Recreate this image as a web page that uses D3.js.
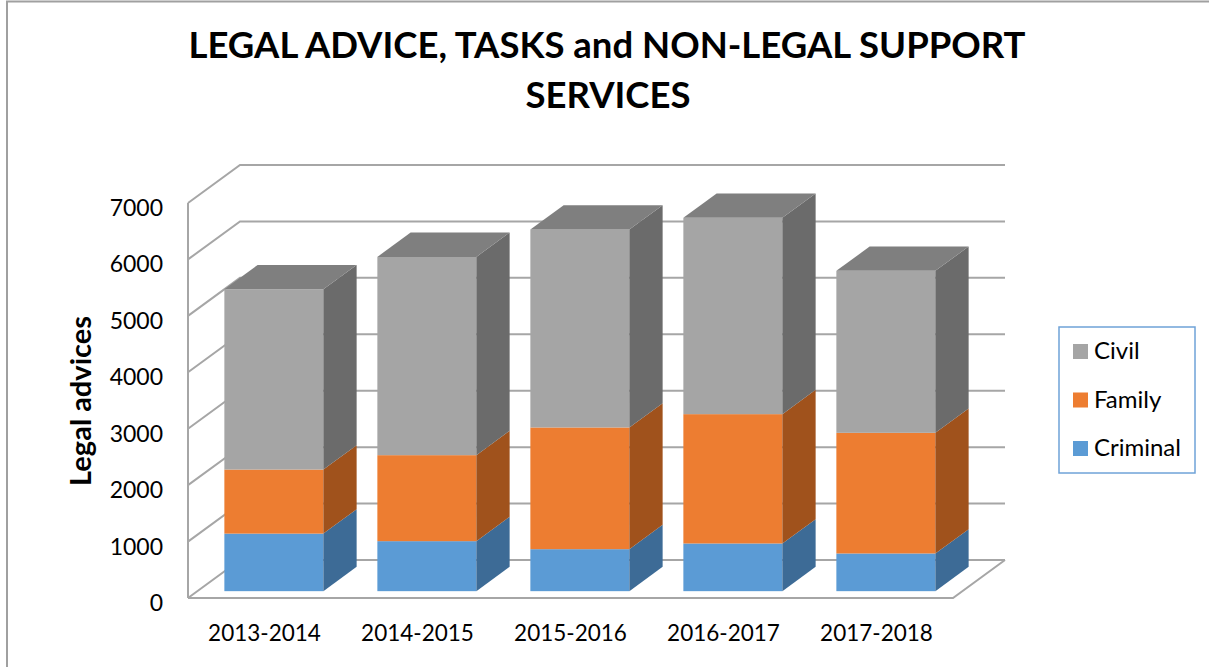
<!DOCTYPE html>
<html>
<head>
<meta charset="utf-8">
<script src="https://cdnjs.cloudflare.com/ajax/libs/d3/7.8.5/d3.min.js"></script>
<style>
  html, body { margin: 0; padding: 0; background: #fff; }
  svg { display: block; font-family: Lato, "Open Sans", sans-serif; }
</style>
</head>
<body>
<div id="chart"></div>
<script>
var years = ["2013-2014", "2014-2015", "2015-2016", "2016-2017", "2017-2018"];
var criminal = [1020, 886, 744, 845, 668];
var family = [1135, 1524, 2157, 2292, 2138];
var civil = [3195, 3514, 3509, 3479, 2870];
var seriesNames = ["Criminal", "Family", "Civil"];
var yTicks = [0, 1000, 2000, 3000, 4000, 5000, 6000, 7000];

createChart();

function createChart() {
  var width = 1209,
    height = 667;
  // floor/wall depth offset and where the bars sit inside that depth
  var depth = { dx: 52, dy: -38 },
    barFront = 0.18,
    barBack = 0.82;
  var colors = {
    Civil: { front: "#a5a5a5", side: "#6b6b6b", top: "#7f7f7f" },
    Family: { front: "#ed7d31", side: "#a0521c", top: "#c9682a" },
    Criminal: { front: "#5b9bd5", side: "#3d6b96", top: "#4a84b8" }
  };
  var gridColor = "#a6a6a6";

  var rows = years.map(function (year, i) {
    return { year: year, Criminal: criminal[i], Family: family[i], Civil: civil[i] };
  });
  var stacked = d3.stack().keys(seriesNames)(rows);

  var x = d3
    .scaleBand()
    .domain(years)
    .range([188, 953])
    .paddingInner(0.353)
    .paddingOuter(0.1765);
  var y = d3.scaleLinear().domain([0, 7000]).range([598, 203]);

  function shift(f) {
    return { dx: depth.dx * f, dy: depth.dy * f };
  }

  var svg = d3
    .select("#chart")
    .append("svg")
    .attr("width", width)
    .attr("height", height);

  // outer frame (only left and top edges are visible)
  svg
    .append("path")
    .attr("d", "M7,667V1.5H1209")
    .attr("fill", "none")
    .attr("stroke", "#a0a0a0")
    .attr("stroke-width", 2);

  drawTitle();
  drawWalls();
  drawBars();
  drawAxisLabels();
  drawLegend();

  function drawTitle() {
    var title = svg
      .append("text")
      .attr("text-anchor", "middle")
      .attr("font-weight", "bold")
      .attr("font-size", 36.5)
      .attr("fill", "#000");
    title.append("tspan").attr("x", 607).attr("y", 58).text("LEGAL ADVICE, TASKS and NON-LEGAL SUPPORT");
    title.append("tspan").attr("x", 608).attr("y", 108).text("SERVICES");
  }

  function drawWalls() {
    var x0 = x.range()[0],
      x1 = x.range()[1];
    var back = shift(1);
    var grid = svg.append("g").attr("class", "grid");

    grid
      .selectAll("path.tick-line")
      .data(yTicks)
      .enter()
      .append("path")
      .attr("class", "tick-line")
      .attr("fill", "none")
      .attr("stroke", gridColor)
      .attr("stroke-width", 2)
      .attr("d", function (d) {
        var yy = y(d);
        return (
          "M" + x0 + "," + yy +
          "L" + (x0 + back.dx) + "," + (yy + back.dy) +
          "L" + (x1 + back.dx) + "," + (yy + back.dy)
        );
      });

    // left wall front edge
    grid
      .append("line")
      .attr("x1", x0)
      .attr("x2", x0)
      .attr("y1", y(0))
      .attr("y2", y(7000))
      .attr("stroke", gridColor)
      .attr("stroke-width", 2);

    // floor front and right edges
    grid
      .append("path")
      .attr("fill", "none")
      .attr("stroke", gridColor)
      .attr("stroke-width", 2)
      .attr(
        "d",
        "M" + x0 + "," + y(0) +
        "L" + x1 + "," + y(0) +
        "L" + (x1 + back.dx) + "," + (y(0) + back.dy)
      );
  }

  function drawBars() {
    var f = shift(barFront);
    var d = shift(barBack - barFront);
    var bw = x.bandwidth();
    var top = seriesNames[seriesNames.length - 1];

    var layers = svg
      .selectAll("g.layer")
      .data(stacked)
      .enter()
      .append("g")
      .attr("class", "layer");

    layers.each(function (layer) {
      var g = d3.select(this);
      var c = colors[layer.key];
      layer.forEach(function (seg, i) {
        var xl = x(years[i]) + f.dx,
          xr = xl + bw,
          yb = y(seg[0]) + f.dy,
          yt = y(seg[1]) + f.dy;

        g.append("rect")
          .attr("x", xl)
          .attr("y", yt)
          .attr("width", bw)
          .attr("height", yb - yt)
          .attr("fill", c.front);

        g.append("path")
          .attr("fill", c.side)
          .attr(
            "d",
            "M" + xr + "," + yb +
            "L" + xr + "," + yt +
            "L" + (xr + d.dx) + "," + (yt + d.dy) +
            "L" + (xr + d.dx) + "," + (yb + d.dy) + "Z"
          );

        if (layer.key === top) {
          g.append("path")
            .attr("fill", c.top)
            .attr(
              "d",
              "M" + xl + "," + yt +
              "L" + xr + "," + yt +
              "L" + (xr + d.dx) + "," + (yt + d.dy) +
              "L" + (xl + d.dx) + "," + (yt + d.dy) + "Z"
            );
        }
      });
    });
  }

  function drawAxisLabels() {
    svg
      .append("g")
      .attr("class", "y-labels")
      .selectAll("text")
      .data(yTicks)
      .enter()
      .append("text")
      .attr("x", 163)
      .attr("y", function (d) {
        return y(d) + 5;
      })
      .attr("dy", "0.35em")
      .attr("text-anchor", "end")
      .attr("font-size", 23)
      .attr("fill", "#000")
      .text(function (d) {
        return d;
      });

    svg
      .append("g")
      .attr("class", "x-labels")
      .selectAll("text")
      .data(years)
      .enter()
      .append("text")
      .attr("x", function (d) {
        return x(d) + x.bandwidth() / 2;
      })
      .attr("y", 641)
      .attr("text-anchor", "middle")
      .attr("font-size", 22.5)
      .attr("fill", "#000")
      .text(function (d) {
        return d;
      });

    svg
      .append("text")
      .attr("transform", "translate(91,401) rotate(-90)")
      .attr("text-anchor", "middle")
      .attr("font-weight", "bold")
      .attr("font-size", 29)
      .attr("fill", "#000")
      .text("Legal advices");
  }

  function drawLegend() {
    var legendKeys = seriesNames.slice().reverse();
    var legendY = d3.scalePoint().domain(legendKeys).range([344, 441]);
    var legend = svg.append("g").attr("class", "legend");

    legend
      .append("rect")
      .attr("x", 1059)
      .attr("y", 327)
      .attr("width", 136)
      .attr("height", 146)
      .attr("fill", "#fff")
      .attr("stroke", "#6fa3d8")
      .attr("stroke-width", 1.5);

    var items = legend
      .selectAll("g.legend-item")
      .data(legendKeys)
      .enter()
      .append("g")
      .attr("class", "legend-item")
      .attr("transform", function (d) {
        return "translate(1073," + legendY(d) + ")";
      });

    items
      .append("rect")
      .attr("width", 15)
      .attr("height", 15)
      .attr("fill", function (d) {
        return colors[d].front;
      });

    items
      .append("text")
      .attr("x", 21)
      .attr("y", 15)
      .attr("font-size", 24)
      .attr("fill", "#000")
      .text(function (d) {
        return d;
      });
  }
}
</script>
</body>
</html>
